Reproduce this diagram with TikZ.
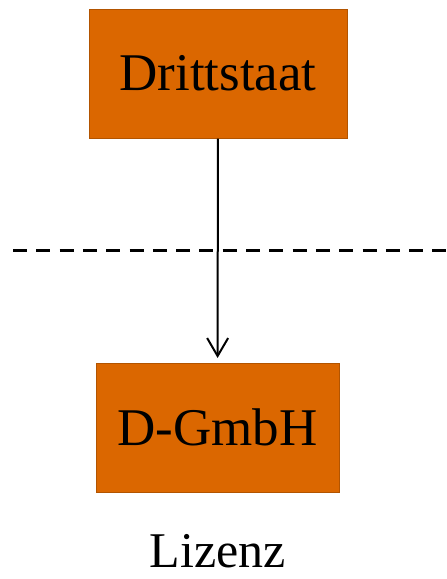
\documentclass[tikz,border=0pt]{standalone}
\usepackage{fontspec}
\setmainfont{Liberation Serif}
\usetikzlibrary{arrows.meta}

\definecolor{boxfill}{RGB}{219,103,0}
\definecolor{boxline}{RGB}{178,84,0}

\tikzset{
  party/.style={draw=boxline, fill=boxfill, line width=1pt, minimum height=129pt, inner sep=0pt, font=\fontsize{53}{60}\selectfont},
  border/.style={line width=3pt, dash pattern=on 14pt off 9.3pt}
}

\begin{document}
\begin{tikzpicture}[x=1pt,y=-1pt]
\useasboundingbox (0,0) rectangle (447,579);

%parties
\node [party, minimum width=258pt] (dritt) at (218,73.5) {Drittstaat};
\node [party, minimum width=243pt] (gmbh) at (217.5,427.5) {D-GmbH};

%border
\path [-, border] (13,250) edge (460,250);

%flow
\path [-{Straight Barb[length=18pt,width=21pt,line width=2pt]}, line width=2pt, shorten >=4.5pt] (dritt) edge (gmbh);

%label
\node [anchor=base, inner sep=0pt, font=\fontsize{50}{56}\selectfont] (lizenz) at (218,567) {Lizenz};
\end{tikzpicture}
\end{document}
